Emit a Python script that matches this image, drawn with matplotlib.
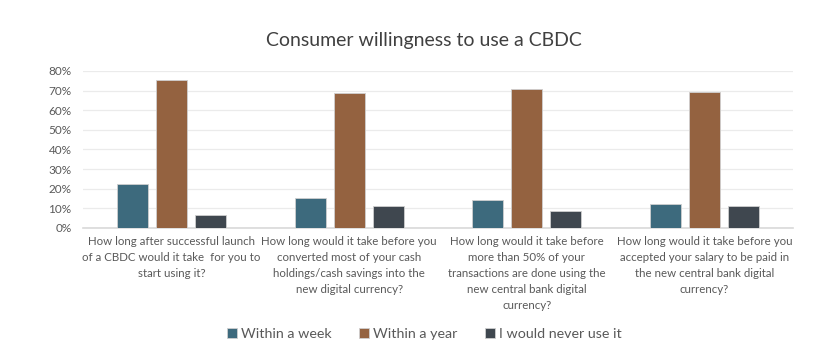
import numpy as np
from matplotlib import pyplot as plt

plt.rcParams['font.family'] = ['Lato', 'DejaVu Sans']

questions = [
    'How long after successful launch\nof a CBDC would it take  for you to\nstart using it?',
    'How long would it take before you\nconverted most of your cash\nholdings/cash savings into the\nnew digital currency?',
    'How long would it take before\nmore than 50% of your\ntransactions are done using the\nnew central bank digital\ncurrency?',
    'How long would it take before you\naccepted your salary to be paid in\nthe new central bank digital\ncurrency?',
]
series = ['Within a week', 'Within a year', 'I would never use it']
within_week = [0.226, 0.151, 0.140, 0.124]
within_year = [0.752, 0.687, 0.709, 0.694]
never_use = [0.068, 0.114, 0.084, 0.114]
colors = ['#3d6a7d', '#946240', '#3f474f']

fig = plt.figure(figsize=(8.35, 3.64), dpi=100)
ax = fig.add_axes([0.099, 0.374, 0.851, 0.431])

x = np.arange(len(questions))
width = 0.175
step = 0.22
for i, (vals, name) in enumerate(zip([within_week, within_year, never_use], series)):
    ax.bar(x + (i - 1) * step, vals, width, color=colors[i], label=name,
           edgecolor='#cfcfcf', linewidth=0.6, zorder=3)

ax.set_xlim(-0.5, len(questions) - 0.5)
ax.set_ylim(0, 0.8)
ax.set_yticks(np.arange(0, 0.81, 0.1))
ax.set_yticklabels(['%d%%' % round(v * 100) for v in np.arange(0, 0.81, 0.1)])
ax.yaxis.grid(True, color='#ebebeb', linewidth=0.9, zorder=0)
ax.set_xticks(x)
ax.set_xticklabels(questions, fontsize=8.3, color='#595959', linespacing=1.55, va='top')
ax.tick_params(axis='y', labelsize=8.5, labelcolor='#595959', length=0, pad=8)
ax.tick_params(axis='x', length=0, pad=6)
for s in ['top', 'right', 'left']:
    ax.spines[s].set_visible(False)
ax.spines['bottom'].set_color('#d9d9d9')
ax.spines['bottom'].set_linewidth(1.2)

fig.text(0.508, 0.89, 'Consumer willingness to use a CBDC', ha='center', va='center',
         fontsize=14, color='#404040')

fig.legend(loc='center', bbox_to_anchor=(0.508, 0.082), ncol=3, frameon=False,
           fontsize=10.3, labelcolor='#595959', handlelength=0.7, handleheight=0.7,
           handletextpad=0.3, columnspacing=1.9)

fig.savefig('out.png', dpi=100, facecolor='white')
